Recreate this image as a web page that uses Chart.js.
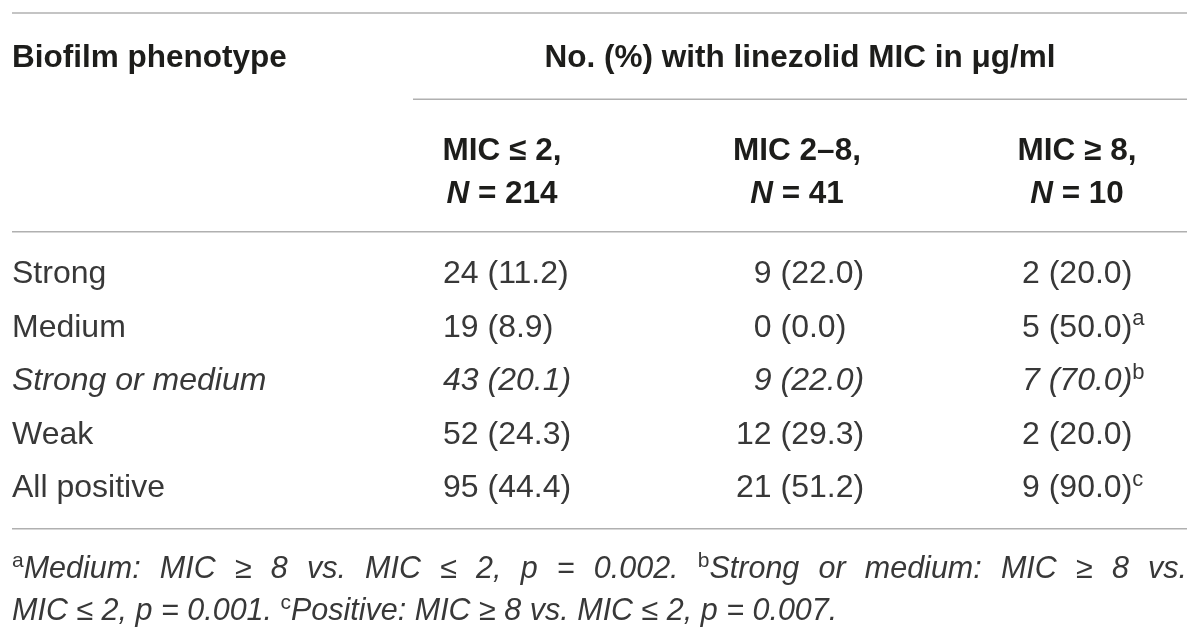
<!DOCTYPE html>
<html>
<head>
<meta charset="utf-8">
<script src="https://cdn.jsdelivr.net/npm/chart.js@4.4.1/dist/chart.umd.min.js"></script>
<style>
html,body{margin:0;padding:0;background:#ffffff;}
#wrap{width:1200px;height:641px;position:relative;}
</style>
</head>
<body>
<div id="wrap"><canvas id="c" width="1200" height="641"></canvas></div>
<script>
// ---------- DATA ----------
const stubHeader = 'Biofilm phenotype';
const spanHeader = 'No. (%) with linezolid MIC in \u03bcg/ml';
const colLabels = ['MIC \u2264 2,', 'MIC 2\u20138,', 'MIC \u2265 8,'];
const colN = [214, 41, 10];
const rowLabels = ['Strong', 'Medium', 'Strong or medium', 'Weak', 'All positive'];
const rowItalic = [false, false, true, false, false];
const countsLow = [24, 19, 43, 52, 95];
const pctLow = [11.2, 8.9, 20.1, 24.3, 44.4];
const countsMid = [9, 0, 9, 12, 21];
const pctMid = [22.0, 0.0, 22.0, 29.3, 51.2];
const countsHigh = [2, 5, 7, 2, 9];
const pctHigh = [20.0, 50.0, 70.0, 20.0, 90.0];
const markHigh = ['', 'a', 'b', '', 'c'];
const footnoteLine1 = [
  {sup: 'a'}, {it: 'Medium: MIC \u2265 8 vs. MIC \u2264 2, p = 0.002. '},
  {sup: 'b'}, {it: 'Strong or medium: MIC \u2265 8 vs.'}
];
const footnoteLine2 = [
  {it: 'MIC \u2264 2, p = 0.001. '}, {sup: 'c'},
  {it: 'Positive: MIC \u2265 8 vs. MIC \u2264 2, p = 0.007.'}
];

// ---------- LAYOUT (x in px units, y in row units: body rows at 0..4) ----------
const FAM = '"Liberation Sans", Arial, Helvetica, sans-serif';
const FS_HEAD = 31.5, FS_BODY = 32, FS_FOOT = 30.5;
const L = {
  left: 12, right: 1187, spanLeft: 413,
  colAnchor: [443, 736, 1022],
  colHeadCenter: [502, 797, 1077],
  spanCenter: 800,
  yTopRule: -4.84, yHead: -4.04, ySpanRule: -3.23,
  ySub1: -2.30, ySub2: -1.50, yHeadRule: -0.75,
  yBottomRule: 4.80, yFoot1: 5.51, yFoot2: 6.30,
  yMin: -5.084, yMax: 6.897
};

const columns = [
  {counts: countsLow, pcts: pctLow, marks: null},
  {counts: countsMid, pcts: pctMid, marks: null},
  {counts: countsHigh, pcts: pctHigh, marks: markHigh}
];

function f(style, weight, size) { return style + ' ' + weight + ' ' + size + 'px ' + FAM; }

function drawRuns(ctx, runs, x, y, align, size, target) {
  const tokens = [];
  runs.forEach(r => {
    if (r.sup || !target) { tokens.push({text: r.text, font: r.font, color: r.color, sup: r.sup, space: false}); return; }
    r.text.split(/( )/).forEach(p => { if (p === '') return; tokens.push({text: p, font: r.font, color: r.color, sup: false, space: p === ' '}); });
  });
  let natural = 0, nSpaces = 0;
  tokens.forEach(t => { ctx.font = t.font; t.w = ctx.measureText(t.text).width; natural += t.w; if (t.space) nSpaces++; });
  let extra = 0;
  if (target && nSpaces > 0) extra = (target - natural) / nSpaces;
  let cx = x;
  if (align === 'center') cx = x - natural / 2;
  if (align === 'right') cx = x - natural;
  ctx.textAlign = 'left';
  ctx.textBaseline = 'alphabetic';
  const base = y + size * 0.358;
  tokens.forEach(t => {
    ctx.font = t.font; ctx.fillStyle = t.color;
    ctx.fillText(t.text, cx, base + (t.sup ? -size * 0.36 : 0));
    cx += t.w + (t.space ? extra : 0);
  });
}

const tablePlugin = {
  id: 'tablePlugin',
  afterDraw(chart) {
    const ctx = chart.ctx;
    const xs = chart.scales.x, ys = chart.scales.y;
    const X = v => xs.getPixelForValue(v);
    const Y = v => ys.getPixelForValue(v);
    const dark = '#1d1d1b', body = '#383838', rule = '#b0b0b0';
    ctx.save();
    ctx.strokeStyle = rule; ctx.lineWidth = 1.5;
    const hl = (x0, x1, yy) => { const py = Y(yy); ctx.beginPath(); ctx.moveTo(X(x0), py); ctx.lineTo(X(x1), py); ctx.stroke(); };
    hl(L.left, L.right, L.yTopRule);
    hl(L.spanLeft, L.right, L.ySpanRule);
    hl(L.left, L.right, L.yHeadRule);
    hl(L.left, L.right, L.yBottomRule);

    const bold = f('normal', 'bold', FS_HEAD), boldIt = f('italic', 'bold', FS_HEAD);
    const reg = f('normal', 'normal', FS_BODY), it = f('italic', 'normal', FS_BODY);
    const supBody = f('normal', 'normal', Math.round(FS_BODY * 0.68));
    const itFoot = f('italic', 'normal', FS_FOOT), supFoot = f('normal', 'normal', Math.round(FS_FOOT * 0.7));
    // headers
    drawRuns(ctx, [{text: stubHeader, font: bold, color: dark}], X(L.left), Y(L.yHead), 'left', FS_HEAD);
    drawRuns(ctx, [{text: spanHeader, font: bold, color: dark}], X(L.spanCenter), Y(L.yHead), 'center', FS_HEAD);
    colLabels.forEach((lab, i) => {
      drawRuns(ctx, [{text: lab, font: bold, color: dark}], X(L.colHeadCenter[i]), Y(L.ySub1), 'center', FS_HEAD);
      drawRuns(ctx, [{text: 'N', font: boldIt, color: dark}, {text: ' = ' + colN[i], font: bold, color: dark}], X(L.colHeadCenter[i]), Y(L.ySub2), 'center', FS_HEAD);
    });
    // body
    rowLabels.forEach((lab, r) => {
      const fnt = rowItalic[r] ? it : reg;
      drawRuns(ctx, [{text: lab, font: fnt, color: body}], X(L.left), Y(r), 'left', FS_BODY);
      columns.forEach((col, c) => {
        const maxDigits = Math.max(...col.counts.map(v => String(v).length));
        ctx.font = fnt;
        const dw = ctx.measureText('0').width;
        const pad = (maxDigits - String(col.counts[r]).length) * dw;
        const runs = [{text: col.counts[r] + ' (' + col.pcts[r].toFixed(1) + ')', font: fnt, color: body}];
        if (col.marks && col.marks[r]) runs.push({text: col.marks[r], font: supBody, color: body, sup: true});
        drawRuns(ctx, runs, X(L.colAnchor[c]) + pad, Y(r), 'left', FS_BODY);
      });
    });
    // footnotes
    const mk = line => line.map(p => p.sup ? {text: p.sup, font: supFoot, color: body, sup: true} : {text: p.it, font: itFoot, color: body});
    drawRuns(ctx, mk(footnoteLine1), X(L.left), Y(L.yFoot1), 'left', FS_FOOT, X(L.right) - X(L.left));
    drawRuns(ctx, mk(footnoteLine2), X(L.left), Y(L.yFoot2), 'left', FS_FOOT);
    ctx.restore();
  }
};

new Chart(document.getElementById('c'), {
  type: 'scatter',
  data: {datasets: [{data: [], pointRadius: 0}]},
  options: {
    responsive: false, animation: false, devicePixelRatio: 1,
    layout: {padding: 0},
    plugins: {legend: {display: false}, tooltip: {enabled: false}},
    scales: {
      x: {type: 'linear', min: 0, max: 1200, display: false},
      y: {type: 'linear', min: L.yMin, max: L.yMax, display: false, reverse: true}
    }
  },
  plugins: [tablePlugin]
});
</script>
</body>
</html>
